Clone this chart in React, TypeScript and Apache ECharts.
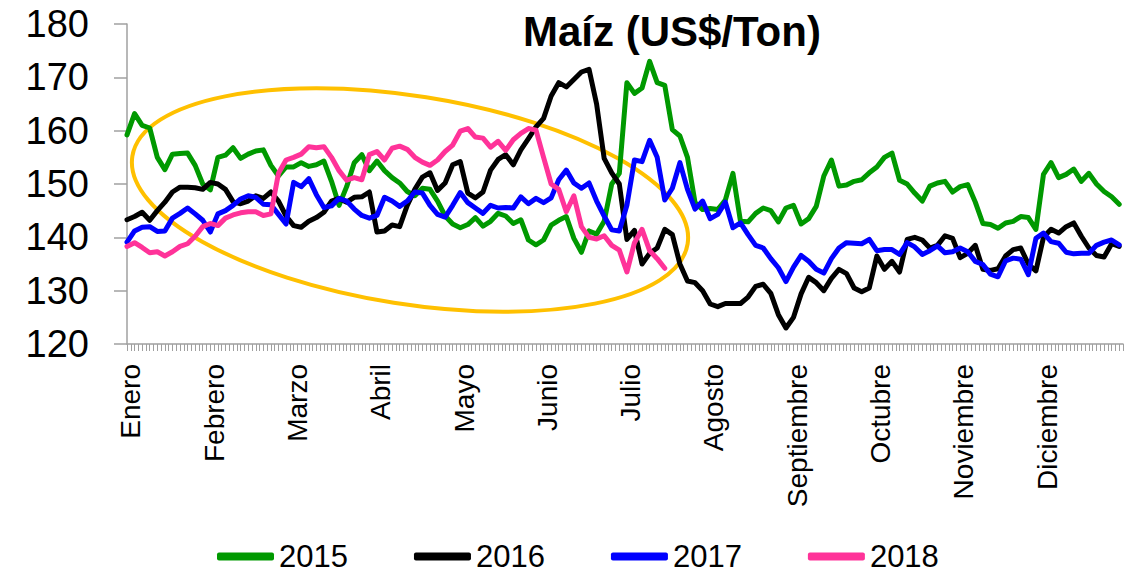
import React, { useEffect, useRef } from "react";
import * as echarts from "echarts";

const MONTHS = ["Enero","Febrero","Marzo","Abril","Mayo","Junio","Julio","Agosto","Septiembre","Octubre","Noviembre","Diciembre"];
const DAY_COUNT = 264;
const DAYS_PER_MONTH = 22;
const STEP = 2; // one value every two trading days
const DAYS = Array.from({ length: DAY_COUNT }, (_, i) => String(i + 1));

const SERIES_NAMES = ["2015", "2016", "2017", "2018"];
const COLORS = ["#009900", "#000000", "#0000FF", "#FF3399"];

const S2015 = [
  159.2,163.2,161,160.5,155,152.7,155.6,155.7,155.8,153.5,150,148.9,155,155.4,156.8,154.8,155.6,156.2,156.4,153.5,
  151.5,153.2,153.2,154,153.3,153.6,154.3,150.5,146,149.5,154,155.5,152.5,154.3,152.5,151.2,150.2,148.6,147.8,149.2,
  149,146.8,144,142.5,141.8,142.4,143.7,142.1,143,144.5,144,142.6,143.3,139.5,138.6,139.5,142.3,143.2,143.9,139.8,
  137.2,141.2,140.6,143,150,152,169,167,168,173,169,168.5,160.2,159,155,146.5,145.2,145.4,145.2,147,
  152,143,142.9,144.5,145.5,145,142.9,145.5,146,142.5,143.5,145.8,151.5,154.5,149.6,149.8,150.5,150.8,152.1,153.2,
  155,155.8,150.7,150,148.3,146.8,149.6,150.2,150.5,148.5,149.5,149.9,146.6,142.6,142.4,141.7,142.7,143,143.9,143.7,
  141.5,151.8,154,151.2,151.8,152.8,150.5,152,150,148.6,147.6,146.2
];

const S2016 = [
  143.3,143.9,144.7,143.2,145,146.6,148.5,149.4,149.4,149.3,149,150.3,150,149,146.7,146.3,146.8,147.8,147.3,148.5,
  146.8,144,142.2,141.9,143,143.7,144.7,146.8,147.3,146.6,147.5,147.6,148.5,141,141.2,142.3,142,146,149,151.3,
  152.1,148.8,150.2,153.6,154.2,148.3,147.4,148.5,152.6,154.6,155.5,153.6,156.4,158.5,160.7,162.3,166.5,169,168.2,169.6,
  171,171.5,165,154.8,152.1,150,139.6,141.3,135,137,138,141.5,140.5,135,131.8,131.5,130,127.5,127,127.6,
  127.6,127.6,128.8,130.8,131.2,129.5,125.5,123,125,129.4,132.5,131.5,130,132.3,134,133.2,130.5,129.8,130.5,136.5,
  134,135.5,133.5,139.6,140,139.5,138,138.5,140.3,139.8,136.2,137,138.5,134,133.8,134.1,136.5,137.7,138,135,
  133.7,140,141.5,140.8,142,142.7,140.2,138,136.6,136.3,138.8,138.3
];

const S2017 = [
  139.1,141.2,141.9,142,141.1,141.2,143.6,144.5,145.5,144.4,143.2,141,144.4,145,146,147.2,147.8,147.5,146.2,146.1,
  144.3,142.5,150.3,149.5,151,148,145.6,145.9,147.3,146.8,145.3,144.1,143.6,144.1,147.5,146.8,145.8,146.8,148.5,148.3,
  146,144.3,143.8,146,148.4,146.5,145.5,144.5,146,145.5,145.6,145.5,147.6,146.3,147.3,146.5,147.4,150.8,152.6,150.2,
  149.2,150.2,146.8,144,141.4,141.2,146,154.5,154.2,158.2,155,147,149.2,154,149,145.3,146.8,143.5,144.3,146.6,
  141.8,142.7,140.5,138.5,138,136,134.3,131.7,134.4,136.6,135.5,134,133.3,136,138,139,138.9,138.8,139.6,137.5,
  137.7,137.7,136.8,139,138.2,136.8,137.5,138.4,137.1,137.3,138,137.3,135.5,134.9,133.1,132.6,135.6,136.1,135.9,133,
  139.8,140.8,139.2,138.9,137.2,136.9,137,137,138.5,139.1,139.5,138.6
];

const S2018 = [
  138.3,139,138.1,137.1,137.3,136.5,137.3,138.3,138.8,140.2,142,142.6,142.2,143.6,144.2,144.6,144.8,144.8,144.1,144.4,
  152,154.5,155,155.6,157,156.8,157,155,152.5,150.7,151.2,150.8,155.5,156.1,154.5,156.7,157.1,156.5,155,154.1,
  153.5,154.5,156.1,157.3,159.9,160.4,158.8,158.6,156.9,158,156.3,158.3,159.5,160.4,160.1,155,150,149,144.8,147.8,
  142,140,139.7,140.3,138.5,137.6,133.5,139,141.5,137.5,136,134.2
];

const ALL = [S2015, S2016, S2017, S2018];
const FONT = "'Liberation Sans', Arial, sans-serif";

export default function App() {
  const ref = useRef<HTMLDivElement>(null);
  useEffect(() => {
    document.body.style.margin = "0";
    if (!ref.current) return;
    const chart = echarts.init(ref.current, null, { renderer: "svg" });
    chart.setOption({
      animation: false,
      backgroundColor: "#ffffff",
      textStyle: { fontFamily: FONT },
      title: {
        text: "Maíz (US$/Ton)",
        left: 518,
        top: 5,
        textStyle: { fontFamily: FONT, fontSize: 42, fontWeight: "bold", color: "#000" },
      },
      legend: {
        data: SERIES_NAMES,
        left: 212,
        top: 536,
        icon: "roundRect",
        itemWidth: 57,
        itemHeight: 8,
        itemGap: 66,
        textStyle: { fontFamily: FONT, fontSize: 31, color: "#000", lineHeight: 31 },
      },
      grid: { left: 127, right: 15, top: 24, bottom: 234, containLabel: false },
      xAxis: {
        type: "category",
        data: DAYS,
        boundaryGap: false,
        axisLine: { show: true, lineStyle: { color: "#A0A0A0", width: 1.5 } },
        axisTick: { show: true, interval: 0, length: 7, lineStyle: { color: "#A0A0A0", width: 1 } },
        axisLabel: {
          interval: (index: number) => index % DAYS_PER_MONTH === 1,
          formatter: (_v: string, index: number) => MONTHS[Math.floor(index / DAYS_PER_MONTH)] || "",
          rotate: 90,
          margin: 20,
          fontSize: 28,
          fontFamily: FONT,
          color: "#000",
        },
        splitLine: { show: false },
      },
      yAxis: {
        type: "value",
        min: 120,
        max: 180,
        interval: 10,
        axisLine: { show: true, lineStyle: { color: "#A0A0A0", width: 1.5 } },
        axisTick: { show: true, length: 13, lineStyle: { color: "#A0A0A0", width: 1.5 } },
        axisLabel: { fontSize: 38, fontFamily: FONT, color: "#000", margin: 38 },
        splitLine: { show: false },
      },
      graphic: [
        {
          type: "ellipse",
          x: 410,
          y: 200,
          rotation: (-9 * Math.PI) / 180,
          shape: { cx: 0, cy: 0, rx: 281, ry: 104 },
          style: { fill: "none", stroke: "#FFC000", lineWidth: 4 },
          z: 1,
          silent: true,
        },
      ],
      series: SERIES_NAMES.map((name, k) => ({
        name,
        type: "line",
        data: ALL[k].map((v, i) => [i * STEP, v]),
        showSymbol: false,
        symbol: "none",
        color: COLORS[k],
        lineStyle: { width: 5, color: COLORS[k], cap: "round", join: "round" },
        z: 3 + k,
      })),
    });
    return () => chart.dispose();
  }, []);
  return <div ref={ref} style={{ width: 1138, height: 578 }} />;
}
